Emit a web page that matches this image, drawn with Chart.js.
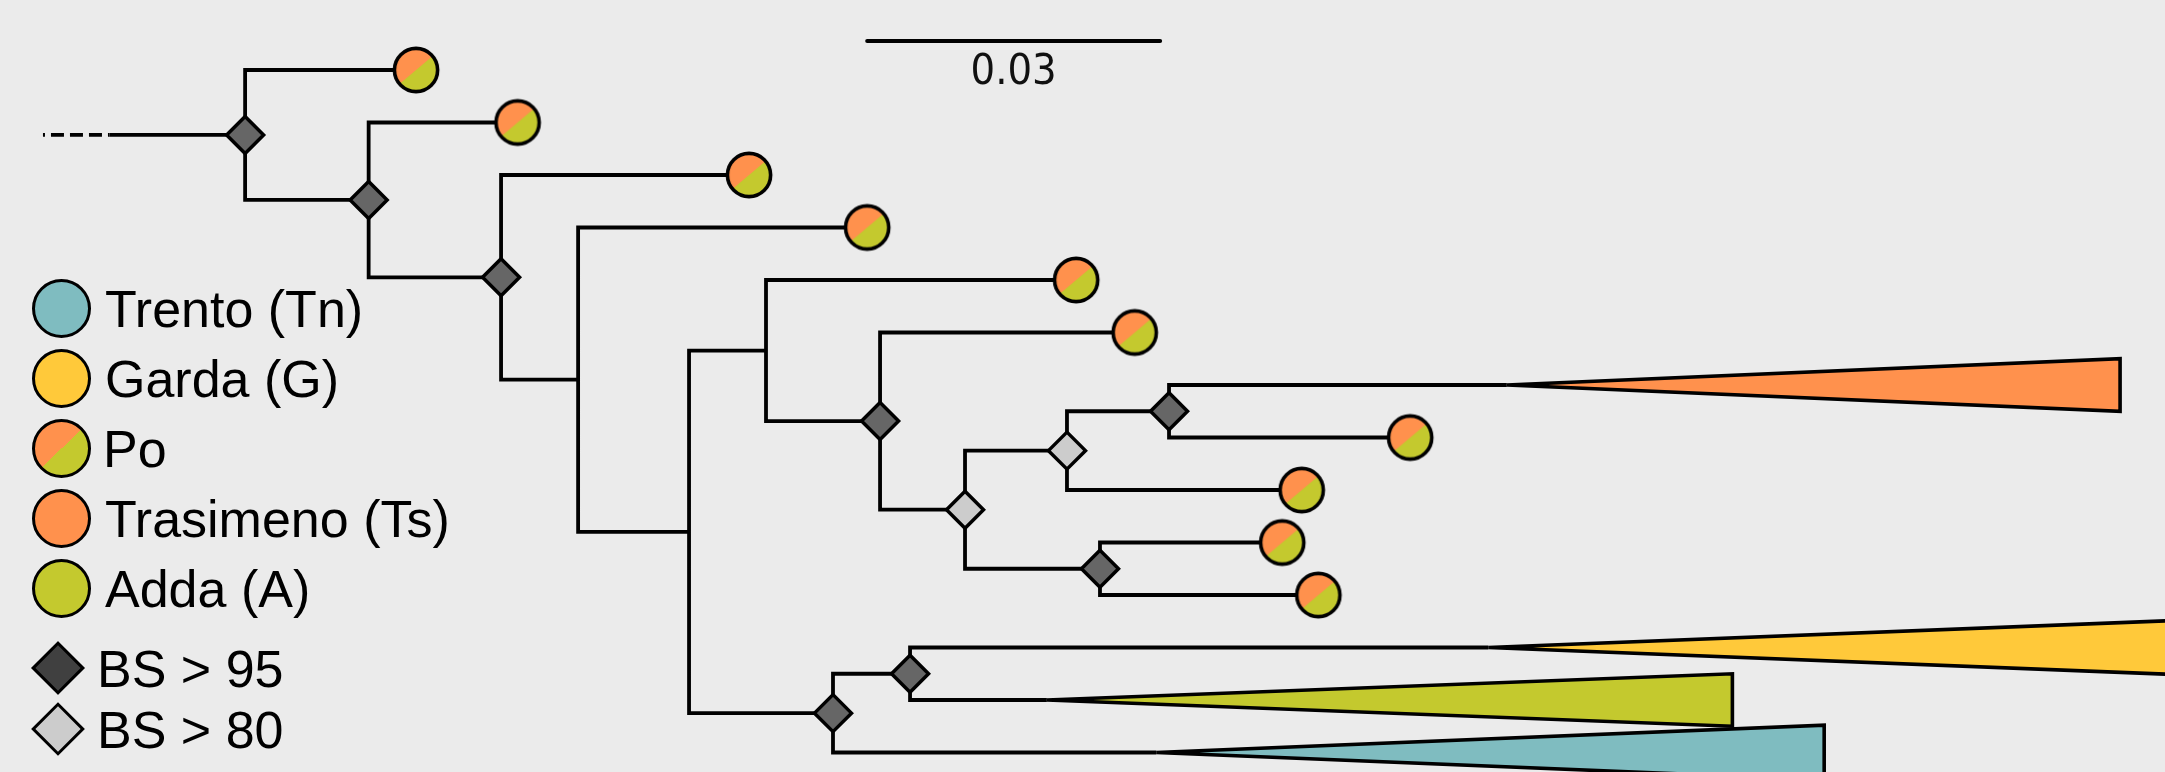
<!DOCTYPE html>
<html>
<head>
<meta charset="utf-8">
<script src="https://cdn.jsdelivr.net/npm/chart.js@4.4.1/dist/chart.umd.min.js"></script>
<style>
html,body{margin:0;padding:0;background:#EBEBEB;}
#wrap{position:relative;width:2165px;height:772px;overflow:hidden;}
#box{position:absolute;left:0;top:0;width:2165px;height:772px;}
.lg-dot{position:absolute;width:59px;height:59px;box-sizing:border-box;border:3.5px solid #000;border-radius:50%;}
.lg-dia{position:absolute;width:38px;height:38px;box-sizing:border-box;border:3.5px solid #000;transform:rotate(45deg);}
.lg-txt{position:absolute;font:52px/52px "Liberation Sans",Arial,sans-serif;color:#000;white-space:nowrap;}
#scaleLbl{position:absolute;font:43px/43px "DejaVu Sans Condensed","DejaVu Sans",sans-serif;font-stretch:condensed;color:#111;transform:translateX(-50%);white-space:nowrap;}
</style>
</head>
<body>
<div id="wrap">
  <div id="box"><canvas id="tree"></canvas></div>
  <div id="legend"></div>
  <div id="scaleLbl">0.03</div>
</div>
<script>
// ---- tips, top to bottom (row = index), distance from root node ----
const tipDist = [0.0175,0.0279,0.0516,0.0637,0.0851,0.0911,0.1292,0.1193,0.1082,0.1062,0.1099,0.1273,0.0821,0.0933];
const tipPop  = ['Po','Po','Po','Po','Po','Po','Ts','Po','Po','Po','Po','G','A','Tn'];

// collapsed clades (drawn as wedges)
const cladeTip  = [6, 11, 12, 13];
const cladeEnd  = [0.1920, 0.1997, 0.1523, 0.1617];
const cladeHalf = [0.50, 0.53, 0.50, 0.52];

// internal nodes
const nodeIds  = ['n0','n1','n2','n3','n4','n5','n6','n7','n8','n9','n10','n11','n12'];
const nodeDist = [0, 0.01265, 0.02621, 0.03410, 0.04546, 0.05334, 0.06502, 0.07372, 0.08416, 0.09461, 0.08754, 0.06020, 0.06809];
const nodeKids = [['t0','n1'],['t1','n2'],['t2','n3'],['t3','n4'],['n5','n11'],['t4','n6'],['t5','n7'],['n8','n10'],['n9','t8'],['t6','t7'],['t9','t10'],['n12','t13'],['t11','t12']];
const nodeBS   = ['>95','>95','>95','','','','>95','>80','>80','>95','>95','>95','>95'];

// root stem and scale bar
const stemStart = -0.0207, stemDashEnd = -0.0139;
const scaleBarStart = 0.0637, scaleBarLen = 0.03, scaleBarRow = -0.55;

// legend
const popCodes  = ['Tn','G','Po','Ts','A'];
const popLabels = ['Trento (Tn)','Garda (G)','Po','Trasimeno (Ts)','Adda (A)'];
const bsCodes   = ['>95','>80'];
const bsLabels  = ['BS > 95','BS > 80'];

// styles
const popColor = {Tn:'#7FBCC0', G:'#FFC93A', Ts:'#FF914D', A:'#C4C92E'};
const bsColor  = {'>95':'#666666','>80':'#CCCCCC'};
const bsLegendColor = {'>95':'#404040','>80':'#CCCCCC'};

// ---- layout: node row = mean of its two children ----
const rowOf = {}, distOf = {};
tipDist.forEach((d,i)=>{rowOf['t'+i]=i;distOf['t'+i]=d;});
nodeIds.forEach((id,i)=>distOf[id]=nodeDist[i]);
function row(id){
  if(id in rowOf) return rowOf[id];
  const k=nodeKids[nodeIds.indexOf(id)];
  return rowOf[id]=(row(k[0])+row(k[1]))/2;
}

const branchPts=[];
nodeIds.forEach((id,i)=>{
  nodeKids[i].forEach(c=>{
    branchPts.push({x:nodeDist[i],y:row(id)},{x:nodeDist[i],y:row(c)},{x:distOf[c],y:row(c)},{x:distOf[c],y:null});
  });
});
branchPts.push({x:stemDashEnd,y:row('n0')},{x:0,y:row('n0')});

const wedgeSets=cladeTip.map((t,i)=>({
  data:[{x:tipDist[t],y:t},{x:cladeEnd[i],y:t-cladeHalf[i]},{x:cladeEnd[i],y:t+cladeHalf[i]},{x:tipDist[t],y:t}],
  showLine:true,fill:'shape',backgroundColor:popColor[tipPop[t]],borderColor:'#000',borderWidth:3.6,
  borderJoinStyle:'miter',pointRadius:0,order:4
}));

function makeMarker(pop){
  const c=document.createElement('canvas');c.width=c.height=50;
  const g=c.getContext('2d');
  g.beginPath();g.arc(25,25,21.6,0,Math.PI*2);
  if(pop==='Po'){
    g.save();g.clip();
    g.fillStyle=popColor.Ts;g.fillRect(0,0,50,50);
    g.translate(25,25);g.rotate(-40*Math.PI/180);
    g.fillStyle=popColor.A;g.fillRect(-30,0,60,30);
    g.restore();
  } else {g.fillStyle=popColor[pop];g.fill();}
  g.lineWidth=3.6;g.strokeStyle='#000';g.stroke();
  return c;
}
const markers={};
popCodes.forEach(p=>markers[p]=makeMarker(p));

const leafIdx=tipDist.map((d,i)=>i).filter(i=>!cladeTip.includes(i));
const supIdx=nodeIds.map((d,i)=>i).filter(i=>nodeBS[i]);

const placeScaleLabel={id:'scaleLabel',afterRender(c){
  const el=document.getElementById('scaleLbl');
  el.style.left=c.scales.x.getPixelForValue(scaleBarStart+scaleBarLen/2)+'px';
  el.style.top=(c.scales.y.getPixelForValue(scaleBarRow)+7)+'px';
}};

new Chart(document.getElementById('tree'),{
  type:'scatter',
  data:{datasets:[
    {data:leafIdx.map(i=>({x:tipDist[i],y:i})),pointStyle:leafIdx.map(i=>markers[tipPop[i]]),pointRadius:23,order:1},
    {data:supIdx.map(i=>({x:nodeDist[i],y:row(nodeIds[i])})),pointStyle:'rectRot',pointRadius:18.5,pointBorderWidth:3.5,
      pointBorderColor:'#000',pointBackgroundColor:supIdx.map(i=>bsColor[nodeBS[i]]),order:2},
    {data:[{x:scaleBarStart,y:scaleBarRow},{x:scaleBarStart+scaleBarLen,y:scaleBarRow}],showLine:true,borderColor:'#000',borderWidth:4,borderCapStyle:'round',pointRadius:0,order:3},
    ...wedgeSets,
    {data:branchPts,showLine:true,borderColor:'#000',borderWidth:3.8,borderJoinStyle:'miter',borderCapStyle:'butt',pointRadius:0,order:5},
    {data:[{x:stemStart,y:row('n0')},{x:stemDashEnd,y:row('n0')}],showLine:true,borderColor:'#000',borderWidth:3.8,borderDash:[13,6],borderDashOffset:11,pointRadius:0,order:6}
  ]},
  options:{
    responsive:true,maintainAspectRatio:false,animation:false,events:[],
    layout:{padding:0,autoPadding:false},
    plugins:{legend:{display:false},tooltip:{enabled:false}},
    scales:{
      x:{type:'linear',display:false,min:-0.0251,max:0.1966},
      y:{type:'linear',display:false,reverse:true,min:-1.3333,max:13.3714}
    }
  },
  plugins:[placeScaleLabel]
});

// ---- legend ----
const lg=document.getElementById('legend');
popCodes.forEach((p,i)=>{
  const cy=308+70*i;
  const d=document.createElement('div');d.className='lg-dot';
  d.style.left='31.5px';d.style.top=(cy-29.5)+'px';
  d.style.background=p==='Po'?`linear-gradient(136deg, ${popColor.Ts} 50%, ${popColor.A} 50%)`:popColor[p];
  const t=document.createElement('div');t.className='lg-txt';t.textContent=popLabels[i];
  t.style.left=(p==='Po'?103:105)+'px';t.style.top=(cy-25.4)+'px';
  lg.append(d,t);
});
bsCodes.forEach((b,i)=>{
  const cy=668+61*i;
  const d=document.createElement('div');d.className='lg-dia';
  d.style.left=(58-19)+'px';d.style.top=(cy-19)+'px';d.style.background=bsLegendColor[b];
  const t=document.createElement('div');t.className='lg-txt';t.textContent=bsLabels[i];
  t.style.left='97px';t.style.top=(cy-25.4)+'px';
  lg.append(d,t);
});
</script>
</body>
</html>
